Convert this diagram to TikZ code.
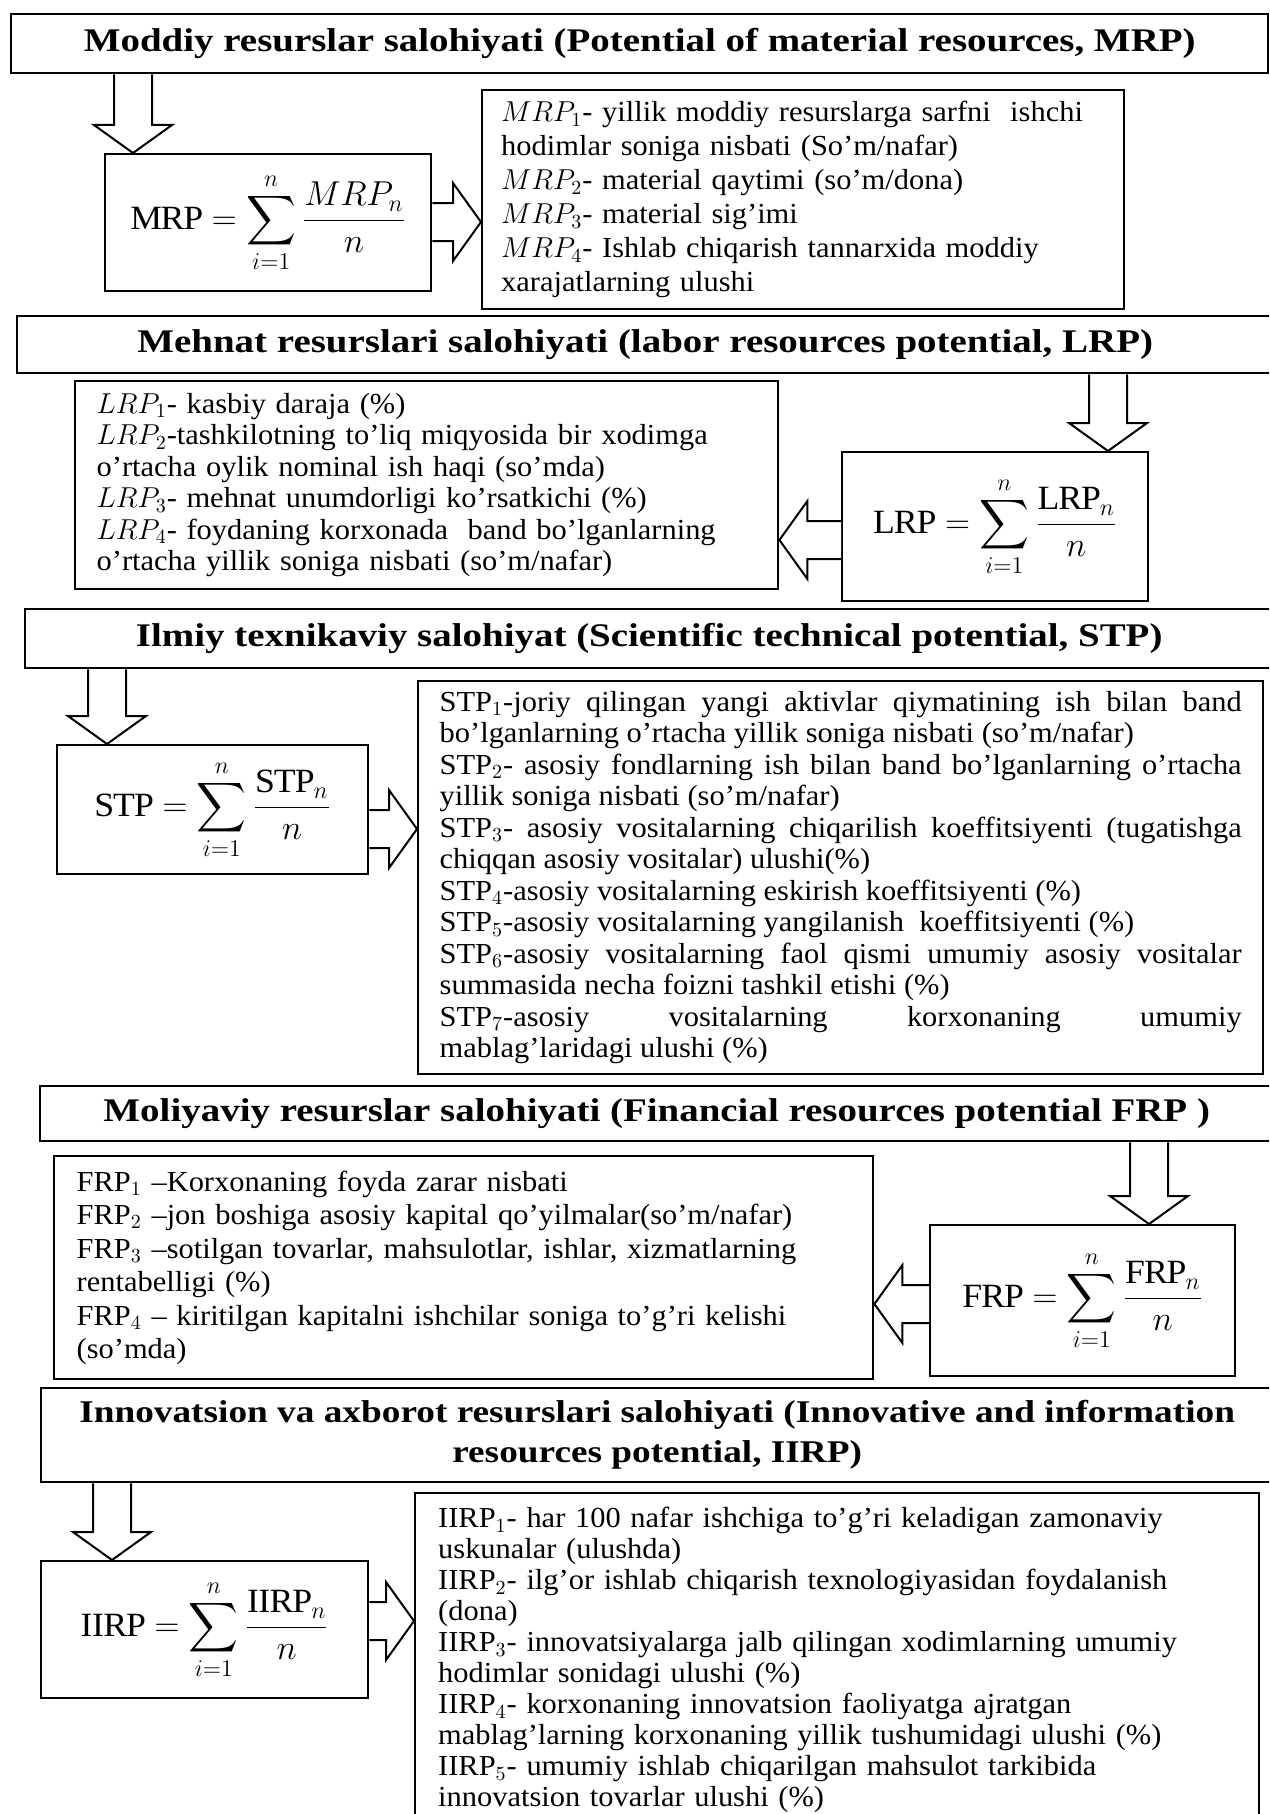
\documentclass[tikz,border=0pt]{standalone}
\usepackage{fontspec}
\setmainfont{Liberation Serif}[FakeStretch=1.05]
\newfontfamily\titlefam{Liberation Serif}[FakeStretch=1.18]
\usepackage{amsmath}
\usepackage{tikz}
\usetikzlibrary{calc}
\newcommand{\titlefont}{\titlefam\fontsize{16.5}{20}\selectfont\bfseries}
\newcommand{\descfont}[1][16]{\fontsize{14.5}{#1}\selectfont}
\newcommand{\formfont}{\fontsize{17}{20}\selectfont}
\newcommand{\shaftw}{19}
\newcommand{\headw}{39}
\newcommand{\headl}{28}
% hollow block arrow going down from one box to the next
\newcommand{\fatdown}[3]{%
  \draw[fatarrow] ($(#1.south -| #3)+(-\shaftw,0)$)
    -- ($(#2.north -| #3)+(-\shaftw,-\headl)$)
    -- ($(#2.north -| #3)+(-\headw,-\headl)$)
    -- (#2.north -| #3)
    -- ($(#2.north -| #3)+(\headw,-\headl)$)
    -- ($(#2.north -| #3)+(\shaftw,-\headl)$)
    -- ($(#1.south -| #3)+(\shaftw,0)$);}
% hollow block arrow going sideways (#4 = 1 to the right, -1 to the left)
\newcommand{\fatside}[4]{%
  \draw[fatarrow] ($(#1 |- #3)+(0,-\shaftw)$)
    -- ($(#2 |- #3)+({#4*(-\headl)},-\shaftw)$)
    -- ($(#2 |- #3)+({#4*(-\headl)},-\headw)$)
    -- (#2 |- #3)
    -- ($(#2 |- #3)+({#4*(-\headl)},\headw)$)
    -- ($(#2 |- #3)+({#4*(-\headl)},\shaftw)$)
    -- ($(#1 |- #3)+(0,\shaftw)$);}

\tikzset{
  titlebox/.style={draw, line width=1.2pt, anchor=north west, inner sep=0pt, font=\titlefont, align=center},
  formbox/.style={draw, line width=1.2pt, anchor=north west, inner sep=0pt, font=\formfont},
  descbox/.style={draw, line width=1.2pt, anchor=north west, inner sep=0pt, align=left},
  fatarrow/.style={draw, line width=1pt, fill=white}
}

\begin{document}
\begin{tikzpicture}[x=0.5pt,y=-0.5pt]
  \useasboundingbox (0,0) rectangle (1269,1814);
  \clip (0,0) rectangle (1269,1814);
  \fill[white] (0,0) rectangle (1269,1814);

  % material resources
  \node[titlebox, minimum width=628.5pt, minimum height=29.5pt] (T1) at (10,13) {Moddiy resurslar salohiyati (Potential of material resources, MRP)};
  \node[formbox, minimum width=163pt, minimum height=68.5pt] (F1) at (104,153) {$\displaystyle \mathrm{MRP} = \sum_{i=1}^{n}\frac{MRP_n}{n}$};
  \node[descbox, font={\descfont[17]}, minimum width=321pt, minimum height=109.5pt, text width=302pt] (D1) at (481,89) {%
    $MRP_1$- yillik moddiy resurslarga sarfni\ \ ishchi\\ hodimlar soniga nisbati (So’m/nafar)\\
    $MRP_2$- material qaytimi (so’m/dona)\\
    $MRP_3$- material sig’imi\\
    $MRP_4$- Ishlab chiqarish tannarxida moddiy\\ xarajatlarning ulushi};

  % labor resources
  \node[titlebox, minimum width=628pt, minimum height=28.5pt] (T2) at (16,315) {Mehnat resurslari salohiyati (labor resources potential, LRP)};
  \node[descbox, font={\descfont[15.75]}, minimum width=351.5pt, minimum height=104pt, text width=330pt] (D2) at (74,380) {%
    $LRP_1$- kasbiy daraja (\%)\\
    $LRP_2$-tashkilotning to'liq miqyosida bir xodimga\\ o'rtacha oylik nominal ish haqi (so’mda)\\
    $LRP_3$- mehnat unumdorligi ko’rsatkichi (\%)\\
    $LRP_4$- foydaning korxonada\ \ band bo'lganlarning\\ o'rtacha yillik soniga nisbati (so’m/nafar)};
  \node[formbox, minimum width=153pt, minimum height=74.5pt] (F2) at (841,451) {$\displaystyle \mathrm{LRP} = \sum_{i=1}^{n}\frac{\mathrm{LRP}_n}{n}$};

  % scientific technical
  \node[titlebox, minimum width=624pt, minimum height=29.5pt] (T3) at (24,608) {Ilmiy texnikaviy salohiyat (Scientific technical potential, STP)};
  \node[formbox, minimum width=155.5pt, minimum height=64.5pt] (F3) at (56,744) {$\displaystyle \mathrm{STP} = \sum_{i=1}^{n}\frac{\mathrm{STP}_n}{n}$};
  \node[descbox, align=justify, font={\descfont[15.75]}, minimum width=422.5pt, minimum height=196.5pt, text width=401pt] (D3) at (417,680) {%
    STP$_1$-joriy qilingan yangi aktivlar qiymatining ish bilan band\linebreak bo'lganlarning o'rtacha yillik soniga nisbati (so’m/nafar)\\
    STP$_2$- asosiy fondlarning ish bilan band bo'lganlarning o'rtacha\linebreak yillik soniga nisbati (so’m/nafar)\\
    STP$_3$- asosiy vositalarning chiqarilish koeffitsiyenti (tugatishga\linebreak chiqqan asosiy vositalar) ulushi(\%)\\
    STP$_4$-asosiy vositalarning eskirish koeffitsiyenti (\%)\\
    STP$_5$-asosiy vositalarning yangilanish\ \ koeffitsiyenti (\%)\\
    STP$_6$-asosiy vositalarning faol qismi umumiy asosiy vositalar\linebreak summasida necha foizni tashkil etishi (\%)\\
    STP$_7$-asosiy vositalarning korxonaning umumiy\linebreak mablag’laridagi ulushi (\%)};

  % financial resources
  \node[titlebox, minimum width=616.5pt, minimum height=27.5pt] (T4) at (39,1085) {Moliyaviy resurslar salohiyati (Financial resources potential FRP )};
  \node[descbox, font={\descfont[16.75]}, minimum width=409.5pt, minimum height=111.5pt, text width=387pt] (D4) at (53,1155) {%
    FRP$_1$ –Korxonaning foyda zarar nisbati\\
    FRP$_2$ –jon boshiga asosiy kapital qo'yilmalar(so’m/nafar)\\
    FRP$_3$ –sotilgan tovarlar, mahsulotlar, ishlar, xizmatlarning\\ rentabelligi (\%)\\
    FRP$_4$ – kiritilgan kapitalni ishchilar soniga to’g’ri kelishi\\ (so’mda)};
  \node[formbox, minimum width=152.5pt, minimum height=75.5pt] (F4) at (929,1224) {$\displaystyle \mathrm{FRP} = \sum_{i=1}^{n}\frac{\mathrm{FRP}_n}{n}$};

  % innovative and information resources
  \node[titlebox, font={\titlefam\fontsize{15.8}{20}\selectfont\bfseries}, minimum width=616pt, minimum height=47pt] (T5) at (40,1387) {Innovatsion va axborot resurslari salohiyati (Innovative and information\\ resources potential, IIRP)};
  \node[formbox, minimum width=163.5pt, minimum height=68.5pt] (F5) at (40,1560) {$\displaystyle \mathrm{IIRP} = \sum_{i=1}^{n}\frac{\mathrm{IIRP}_n}{n}$};
  \node[descbox, font={\descfont[15.5]}, minimum width=422pt, minimum height=167pt, text width=399pt] (D5) at (414,1492) {%
    IIRP$_1$- har 100 nafar ishchiga to’g’ri keladigan zamonaviy\\ uskunalar (ulushda)\\
    IIRP$_2$- ilg'or ishlab chiqarish texnologiyasidan foydalanish\\ (dona)\\
    IIRP$_3$- innovatsiyalarga jalb qilingan xodimlarning umumiy\\ hodimlar sonidagi ulushi (\%)\\
    IIRP$_4$- korxonaning innovatsion faoliyatga ajratgan\\ mablag’larning korxonaning yillik tushumidagi ulushi (\%)\\
    IIRP$_5$- umumiy ishlab chiqarilgan mahsulot tarkibida\\ innovatsion tovarlar ulushi (\%)};

  % arrow axes
  \coordinate (ax1) at (133,0);
  \coordinate (ax2) at (1108,0);
  \coordinate (ax3) at (107,0);
  \coordinate (ax4) at (1149,0);
  \coordinate (ax5) at (112,0);
  \coordinate (ay1) at (0,222);
  \coordinate (ay2) at (0,540);
  \coordinate (ay3) at (0,829);
  \coordinate (ay4) at (0,1304);
  \coordinate (ay5) at (0,1621);

  \fatdown{T1}{F1}{ax1}
  \fatside{F1.east}{D1.west}{ay1}{1}
  \fatdown{T2}{F2}{ax2}
  \fatside{F2.west}{D2.east}{ay2}{-1}
  \fatdown{T3}{F3}{ax3}
  \fatside{F3.east}{D3.west}{ay3}{1}
  \fatdown{T4}{F4}{ax4}
  \fatside{F4.west}{D4.east}{ay4}{-1}
  \fatdown{T5}{F5}{ax5}
  \fatside{F5.east}{D5.west}{ay5}{1}
\end{tikzpicture}
\end{document}
